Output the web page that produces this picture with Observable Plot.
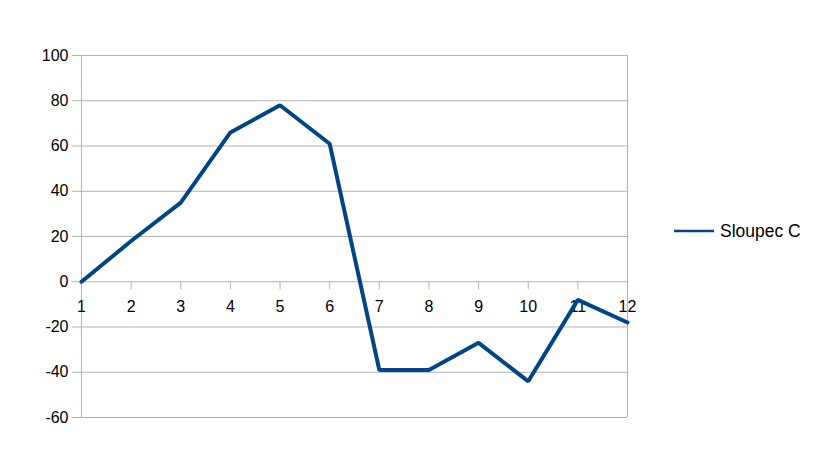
<!DOCTYPE html>
<html>
<head>
<meta charset="utf-8">
<script src="https://cdn.jsdelivr.net/npm/d3@7"></script>
<script src="https://cdn.jsdelivr.net/npm/@observablehq/plot@0.6"></script>
<style>
  html, body { margin: 0; padding: 0; background: #fff; }
  #chart { width: 819px; height: 460px; }
</style>
</head>
<body>
<div id="chart"></div>
<script>
const xValues = [1, 2, 3, 4, 5, 6, 7, 8, 9, 10, 11, 12];
const sloupecC = [0, 18, 35, 66, 78, 61, -39, -39, -27, -44, -8, -18];
const yTicks = [-60, -40, -20, 0, 20, 40, 60, 80, 100];
const xTicks = [1, 2, 3, 4, 5, 6, 7, 8, 9, 10, 11, 12];
const seriesName = "Sloupec C";

const data = xValues.map((x, i) => ({x, y: sloupecC[i]}));
const gridColor = "#b3b3b3";
const lineColor = "#004586";

const chart = Plot.plot({
  width: 819,
  height: 460,
  marginLeft: 81,
  marginRight: 192,
  marginTop: 55,
  marginBottom: 43,
  style: {fontFamily: "'Liberation Sans', Arial, sans-serif", fontSize: "16px", color: "#000", background: "#fff"},
  x: {domain: [1, 12], axis: null},
  y: {domain: [-60, 100], axis: null},
  marks: [
    Plot.ruleY(yTicks, {y: d => d, stroke: gridColor, strokeWidth: 1}),
    Plot.ruleX([1, 12], {x: d => d, stroke: gridColor, strokeWidth: 1}),
    Plot.axisY(yTicks, {tickSize: 9, tickPadding: 4, stroke: gridColor, fill: "#000", fontSize: 16, label: null, tickFormat: d => String(d)}),
    Plot.ruleX(xTicks, {x: d => d, y1: 0, y2: 0, insetBottom: -8, stroke: gridColor, strokeWidth: 1}),
    Plot.text(xTicks, {x: d => d, y: 0, text: d => String(d), dy: 25, fontSize: 16, fill: "#000"}),
    Plot.line(data, {x: "x", y: "y", stroke: lineColor, strokeWidth: 4, strokeLinejoin: "miter"})
  ]
});

document.getElementById("chart").appendChild(chart);

// legend inside the right margin of the SVG
const svg = d3.select(chart);
const lg = svg.append("g").attr("transform", "translate(674,231)");
lg.append("line").attr("x1", 0).attr("x2", 40).attr("y1", 0).attr("y2", 0)
  .attr("stroke", lineColor).attr("stroke-width", 2.5);
lg.append("text").attr("x", 46).attr("y", 0).attr("dy", "0.35em")
  .attr("text-anchor", "start")
  .attr("font-family", "'Liberation Sans', Arial, sans-serif").attr("font-size", 17.5)
  .attr("fill", "#000").text(seriesName);
</script>
</body>
</html>
